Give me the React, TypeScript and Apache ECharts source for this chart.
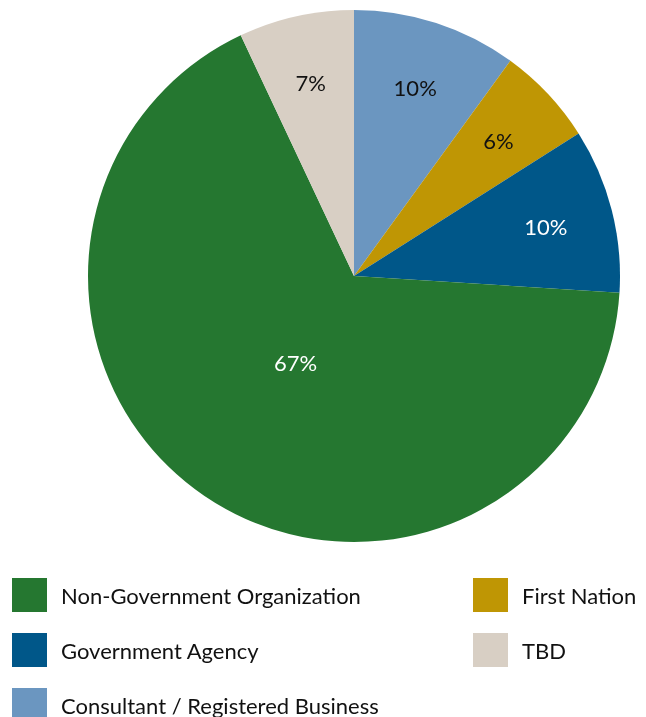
import React, { useEffect, useRef } from "react";
import * as echarts from "echarts";

const categories = [
  "Consultant / Registered Business",
  "First Nation",
  "Government Agency",
  "Non-Government Organization",
  "TBD",
];
const values = [10, 6, 10, 67, 7];
const colors = ["#6B96C0", "#BF9604", "#005789", "#257730", "#D8CFC4"];
const labelColors = ["#111111", "#111111", "#ffffff", "#ffffff", "#111111"];
const legendLeft = ["Non-Government Organization", "Government Agency", "Consultant / Registered Business"];
const legendRight = ["First Nation", "TBD"];

const FONT = "Lato";

export default function App() {
  const ref = useRef<HTMLDivElement>(null);
  useEffect(() => {
    document.body.style.margin = "0";
    const chart = echarts.init(ref.current!, null, { renderer: "svg" });
    const center = [354, 276];
    const R = 266;
    const big = values.indexOf(Math.max(...values));
    const legendBase = {
      orient: "vertical",
      top: 578,
      padding: 0,
      itemWidth: 35,
      itemHeight: 34,
      itemGap: 21,
      icon: "rect",
      textStyle: { fontFamily: FONT, fontSize: 22, color: "#111", padding: [0, 0, 0, 9] },
    };
    chart.setOption({
      animation: false,
      color: colors,
      legend: [
        { ...legendBase, left: 12, data: legendLeft },
        { ...legendBase, left: 473, data: legendRight },
      ],
      series: [
        {
          type: "pie",
          center,
          radius: [0, R],
          startAngle: 90,
          clockwise: true,
          label: { show: false },
          labelLine: { show: false },
          data: categories.map((n, i) => ({ name: n, value: values[i], itemStyle: { color: colors[i] } })),
        },
        {
          type: "pie",
          center,
          radius: [124, R],
          startAngle: 90,
          silent: true,
          legendHoverLink: false,
          labelLine: { show: false },
          data: categories.map((n, i) => ({
            name: n,
            value: values[i],
            itemStyle: { color: "rgba(0,0,0,0)" },
            label: {
              show: i !== big,
              position: "inside",
              formatter: "{c}%",
              fontFamily: FONT,
              fontSize: 22,
              color: labelColors[i],
            },
          })),
        },
        {
          type: "pie",
          center,
          radius: [0, 202],
          startAngle: 90,
          silent: true,
          legendHoverLink: false,
          labelLine: { show: false },
          data: categories.map((n, i) => ({
            name: n,
            value: values[i],
            itemStyle: { color: "rgba(0,0,0,0)" },
            label: {
              show: i === big,
              position: "inside",
              formatter: "{c}%",
              fontFamily: FONT,
              fontSize: 22,
              color: labelColors[i],
            },
          })),
        },
      ],
    });
    return () => chart.dispose();
  }, []);
  return <div ref={ref} style={{ position: "fixed", left: 0, top: 0, width: 646, height: 780 }} />;
}
